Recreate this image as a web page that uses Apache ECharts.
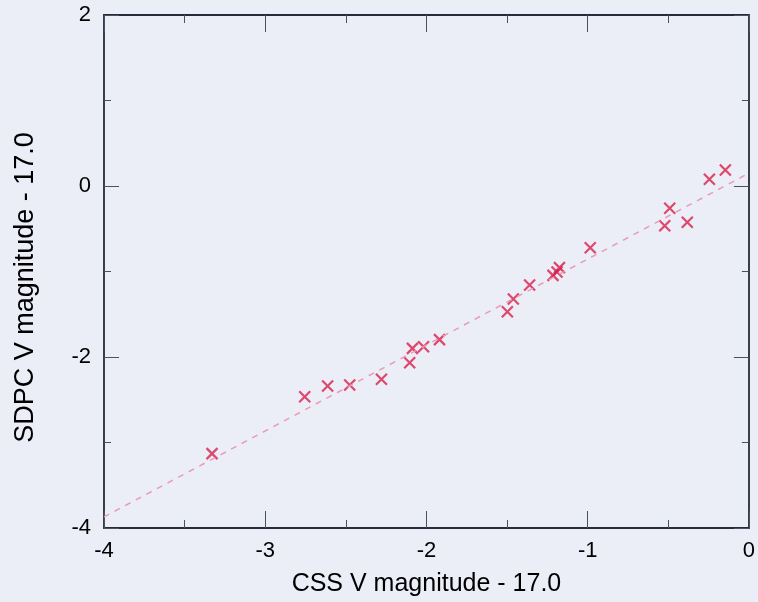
<!DOCTYPE html>
<html>
<head>
<meta charset="utf-8">
<script src="https://cdn.jsdelivr.net/npm/echarts@6/dist/echarts.min.js"></script>
<style>
html,body{margin:0;padding:0;background:#eceef7;}
#c{width:758px;height:602px;}
</style>
</head>
<body>
<div id="c"></div>
<script>
// CSS V magnitude - 17.0 (x) vs SDPC V magnitude - 17.0 (y)
const cssV = [-3.33, -2.755, -2.613, -2.476, -2.279, -2.104, -2.087, -2.018, -1.919,
  -1.498, -1.461, -1.360, -1.215, -1.190, -1.175, -0.984, -0.522, -0.491, -0.382, -0.245, -0.146];
const sdpcV = [-3.13, -2.464, -2.339, -2.327, -2.261, -2.067, -1.899, -1.879, -1.797,
  -1.470, -1.322, -1.158, -1.045, -1.005, -0.955, -0.722, -0.464, -0.261, -0.425, 0.078, 0.187];
// dashed reference line endpoints
const lineX = [-4, 0];
const lineY = [-3.87, 0.15];
const xTicks = [-4, -3, -2, -1, 0];
const yTicks = [-4, -2, 0, 2];

const pts = cssV.map((v, i) => [v, sdpcV[i]]);
const linePts = lineX.map((v, i) => [v, lineY[i]]);

const font = 'Liberation Sans, Arial, Helvetica, sans-serif';
const axisLine = {show: true, onZero: false, lineStyle: {color: '#262b3a', width: 1.8}};
const tickStyle = {color: '#4a5060', width: 1};

const chart = echarts.init(document.getElementById('c'), null, {renderer: 'canvas'});
chart.setOption({
  backgroundColor: '#eceef7',
  animation: false,
  grid: {left: 104, right: 5, top: 15, bottom: 74, containLabel: false},
  xAxis: [{
    type: 'value', min: -4, max: 0, interval: 1, position: 'bottom',
    name: 'CSS V magnitude - 17.0', nameLocation: 'middle', nameGap: 44,
    nameTextStyle: {fontFamily: font, fontSize: 25, color: '#000'},
    axisLine: axisLine,
    axisTick: {show: true, inside: true, length: 17, lineStyle: tickStyle},
    minorTick: {show: true, splitNumber: 2, length: 8, lineStyle: tickStyle},
    axisLabel: {fontFamily: font, fontSize: 22, color: '#000', margin: 12,
      formatter: v => xTicks.includes(v) ? String(v) : ''},
    splitLine: {show: false}
  }, {
    type: 'value', min: -4, max: 0, interval: 1, position: 'top',
    axisLine: axisLine,
    axisTick: {show: true, inside: true, length: 17, lineStyle: tickStyle},
    minorTick: {show: true, splitNumber: 2, length: 8, lineStyle: tickStyle},
    axisLabel: {show: false}, splitLine: {show: false}
  }],
  yAxis: [{
    type: 'value', min: -4, max: 2, interval: 2, position: 'left',
    name: 'SDPC V magnitude - 17.0', nameLocation: 'middle', nameGap: 65,
    nameTextStyle: {fontFamily: font, fontSize: 27, color: '#000', padding: [0, 32, 0, 0]},
    axisLine: axisLine,
    axisTick: {show: true, inside: true, length: 15, lineStyle: tickStyle},
    minorTick: {show: true, splitNumber: 2, length: 7, lineStyle: tickStyle},
    axisLabel: {fontFamily: font, fontSize: 22, color: '#000', margin: 13,
      formatter: v => yTicks.includes(v) ? String(v) : ''},
    splitLine: {show: false}
  }, {
    type: 'value', min: -4, max: 2, interval: 2, position: 'right',
    axisLine: axisLine,
    axisTick: {show: true, inside: true, length: 15, lineStyle: tickStyle},
    minorTick: {show: true, splitNumber: 2, length: 7, lineStyle: tickStyle},
    axisLabel: {show: false}, splitLine: {show: false}
  }],
  series: [{
    type: 'line', data: linePts, xAxisIndex: 0, yAxisIndex: 0,
    symbol: 'none', silent: true,
    lineStyle: {color: '#e99abb', width: 1.5, type: [6, 6]}
  }, {
    type: 'scatter', data: pts, xAxisIndex: 0, yAxisIndex: 0,
    symbol: 'path://M0,0L10,10M10,0L0,10', symbolSize: 11,
    itemStyle: {color: 'rgba(0,0,0,0)', borderColor: '#d81f4a', borderWidth: 2.2}
  }]
});
</script>
</body>
</html>
